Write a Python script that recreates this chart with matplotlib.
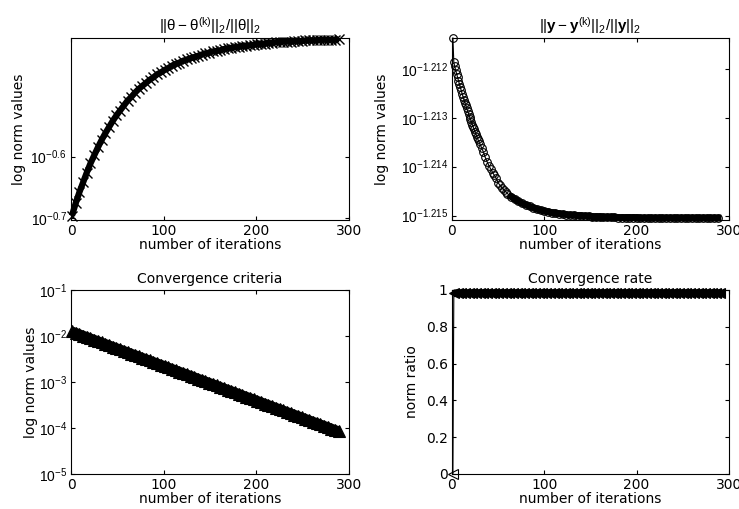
import numpy as np
import matplotlib
matplotlib.use("Agg")
import matplotlib.pyplot as plt

plt.rcParams['font.family'] = 'DejaVu Sans'
plt.rcParams['mathtext.fontset'] = 'custom'
plt.rcParams['mathtext.rm'] = 'Liberation Sans'
plt.rcParams['mathtext.it'] = 'Liberation Sans:italic'
plt.rcParams['mathtext.bf'] = 'Liberation Sans:bold'
plt.rcParams['mathtext.default'] = 'rm'
plt.rcParams['font.size'] = 10

# iterations for the dense series
iters = list(range(1, 290, 4))

# log10 of ||theta - theta(k)|| / ||theta||
theta_err_log = [
    -0.696, -0.676, -0.658, -0.642, -0.626, -0.611, -0.598, -0.585, -0.573, -0.562,
    -0.552, -0.542, -0.533, -0.525, -0.517, -0.509, -0.503, -0.496, -0.490, -0.485,
    -0.480, -0.475, -0.471, -0.466, -0.463, -0.459, -0.456, -0.452, -0.449, -0.447,
    -0.444, -0.442, -0.440, -0.438, -0.436, -0.434, -0.432, -0.431, -0.429, -0.428,
    -0.427, -0.425, -0.424, -0.423, -0.422, -0.421, -0.420, -0.420, -0.419, -0.418,
    -0.417, -0.417, -0.416, -0.415, -0.415, -0.414, -0.414, -0.413, -0.413, -0.413,
    -0.412, -0.412, -0.412, -0.411, -0.411, -0.411, -0.411, -0.410, -0.410, -0.410,
    -0.410, -0.410, -0.409,
]

# log10 of ||y - y(k)|| / ||y||
iters_y = [1] + list(range(2, 31)) + list(range(32, 61, 2)) + list(range(64, 289, 4))
y_err_log = [
    -1.21137,
    -1.21187, -1.21195, -1.21203, -1.21210, -1.21217, -1.21224, -1.21231, -1.21238,
    -1.21244, -1.21251, -1.21257, -1.21263, -1.21269, -1.21275, -1.21281, -1.21287,
    -1.21292, -1.21298, -1.21303, -1.21308, -1.21314, -1.21319, -1.21324, -1.21329,
    -1.21334, -1.21339, -1.21344, -1.21348, -1.21353,
    -1.21361, -1.21370, -1.21381, -1.21390, -1.21398, -1.21405, -1.21412, -1.21418,
    -1.21424, -1.21433, -1.21438, -1.21443, -1.21447, -1.21451, -1.21455,
    -1.21461, -1.21466, -1.21471, -1.21475, -1.21478, -1.21481, -1.21484, -1.21487,
    -1.21489, -1.21491, -1.21492, -1.21494, -1.21495, -1.21496, -1.21497, -1.21498,
    -1.21499, -1.21499, -1.21500, -1.21500, -1.21501, -1.21501, -1.21502, -1.21502,
    -1.21502, -1.21503, -1.21503, -1.21503, -1.21503, -1.21504, -1.21504, -1.21504,
    -1.21504, -1.21504, -1.21504,
    -1.21505, -1.21505, -1.21505, -1.21505, -1.21505, -1.21505, -1.21505, -1.21505,
    -1.21505, -1.21505, -1.21505, -1.21505, -1.21505, -1.21505, -1.21505, -1.21505,
    -1.21505, -1.21505, -1.21505, -1.21505, -1.21505, -1.21505,
]

# log10 of convergence criterion
crit_log = [
    -1.900, -1.930, -1.960, -1.990, -2.021, -2.051, -2.081, -2.111, -2.141, -2.171,
    -2.202, -2.232, -2.262, -2.292, -2.322, -2.352, -2.383, -2.413, -2.443, -2.473,
    -2.503, -2.533, -2.564, -2.594, -2.624, -2.654, -2.684, -2.714, -2.745, -2.775,
    -2.805, -2.835, -2.865, -2.895, -2.926, -2.956, -2.986, -3.016, -3.046, -3.076,
    -3.107, -3.137, -3.167, -3.197, -3.227, -3.257, -3.288, -3.318, -3.348, -3.378,
    -3.408, -3.438, -3.469, -3.499, -3.529, -3.559, -3.589, -3.619, -3.650, -3.680,
    -3.710, -3.740, -3.770, -3.800, -3.831, -3.861, -3.891, -3.921, -3.951, -3.981,
    -4.012, -4.042, -4.072,
]

# convergence rate (ratio of successive criteria)
iters_r = [1] + list(range(2, 291, 4))
rate = [
    0.0,
    0.982, 0.983, 0.983, 0.983, 0.983, 0.983, 0.983, 0.983, 0.983, 0.983,
    0.983, 0.983, 0.983, 0.983, 0.983, 0.983, 0.983, 0.983, 0.983, 0.983,
    0.983, 0.983, 0.983, 0.983, 0.983, 0.983, 0.983, 0.983, 0.983, 0.983,
    0.983, 0.983, 0.983, 0.983, 0.983, 0.983, 0.983, 0.983, 0.983, 0.983,
    0.983, 0.983, 0.983, 0.983, 0.983, 0.983, 0.983, 0.983, 0.983, 0.983,
    0.983, 0.983, 0.983, 0.983, 0.983, 0.983, 0.983, 0.983, 0.983, 0.983,
    0.983, 0.983, 0.983, 0.983, 0.983, 0.983, 0.983, 0.983, 0.983, 0.983,
    0.983, 0.983, 0.983,
]

xticks = [0, 100, 200, 300]


def matlab_axes(ax, ylab, ylab_x):
    ax.tick_params(direction='in', length=3, width=0.8, top=True, right=True,
                   labelsize=10, pad=3)
    ax.minorticks_off()
    for s in ax.spines.values():
        s.set_linewidth(0.8)
    ax.set_xlim(0, 300)
    ax.set_xticks(xticks)
    ax.set_xticklabels([str(t) for t in xticks])
    ax.set_xlabel('number of iterations', labelpad=0)
    ax.set_ylabel(ylab)
    ax.yaxis.set_label_coords(ylab_x, 0.5)


def log_ticks(ax, exps, fmt):
    ax.set_yscale('log')
    ax.set_yticks([10.0 ** e for e in exps])
    ax.set_yticklabels([r'$10^{%s}$' % (fmt % e) for e in exps], fontsize=10.5)
    ax.minorticks_off()


fig = plt.figure(figsize=(7.39, 5.09), dpi=100)
ax1 = fig.add_axes([0.0961, 0.5678, 0.3762, 0.3576])
ax2 = fig.add_axes([0.6116, 0.5678, 0.3748, 0.3576])
ax3 = fig.add_axes([0.0961, 0.0688, 0.3762, 0.3615])
ax4 = fig.add_axes([0.6116, 0.0688, 0.3748, 0.3615])

# top left
theta_vals = 10.0 ** np.array(theta_err_log)
ax1.plot(iters, theta_vals, '-', color='k', lw=4.5, solid_capstyle='butt', clip_on=False)
ax1.plot(iters, theta_vals, 'x', color='k', ms=6.5, mew=1.0, clip_on=False)
log_ticks(ax1, [-0.7, -0.6], '%.1f')
ax1.set_ylim(10 ** -0.703, 10 ** -0.407)
matlab_axes(ax1, 'log norm values', -0.162)
ax1.set_title(r'$||\theta-\theta^{(k)}||_2/||\theta||_2$', fontsize=11, pad=5)

# top right
y_vals = 10.0 ** np.array(y_err_log)
k = iters_y.index(64)
ax2.plot(iters_y, y_vals, '-o', color='k', lw=0.8,
         ms=5.5, mew=0.8, mfc='none', clip_on=False)
ax2.plot(iters_y[k:], y_vals[k:], '-', color='k', lw=5, clip_on=False)
log_ticks(ax2, [-1.215, -1.214, -1.213, -1.212], '%.3f')
ax2.set_ylim(10 ** -1.21509, 10 ** -1.21137)
matlab_axes(ax2, 'log norm values', -0.227)
ax2.set_title(r'$||\mathbf{y}-\mathbf{y}^{(k)}||_2/||\mathbf{y}||_2$', fontsize=11, pad=5)

# bottom left
crit_vals = 10.0 ** np.array(crit_log)
ax3.plot(iters, crit_vals, '-', color='k', lw=7, solid_capstyle='butt', clip_on=False)
ax3.plot(iters, crit_vals, '^', color='k', ms=8, mew=0.8, mfc='k', clip_on=False)
log_ticks(ax3, [-5, -4, -3, -2, -1], '%d')
ax3.set_ylim(1e-5, 1e-1)
matlab_axes(ax3, 'log norm values', -0.119)
ax3.set_title('Convergence criteria', fontsize=10, pad=5)

# bottom right
ax4.plot(iters_r, rate, '-', color='k', lw=0.8, clip_on=False)
ax4.plot(iters_r[1:], rate[1:], '-', color='k', lw=5.5, solid_capstyle='butt', clip_on=False)
ax4.plot(iters_r[1:], rate[1:], '<', color='k', ms=7, mew=0.8, mfc='k', clip_on=False)
ax4.plot(iters_r[:1], rate[:1], '<', color='k', ms=6.5, mew=0.8, mfc='none', clip_on=False)
ax4.set_ylim(0, 1)
ax4.set_yticks([0, 0.2, 0.4, 0.6, 0.8, 1])
ax4.set_yticklabels(['0', '0.2', '0.4', '0.6', '0.8', '1'])
matlab_axes(ax4, 'norm ratio', -0.119)
ax4.set_title('Convergence rate', fontsize=10, pad=5)

fig.savefig('out.png', dpi=100)
